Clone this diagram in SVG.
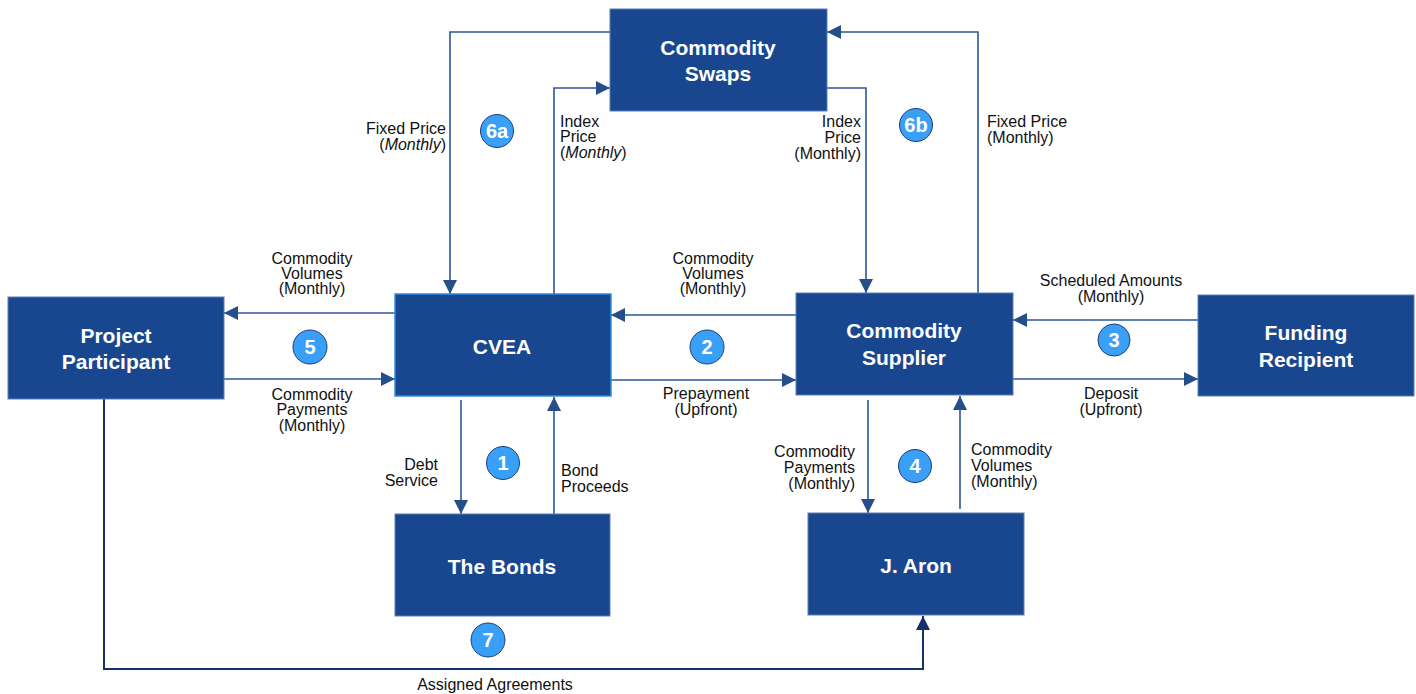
<svg xmlns="http://www.w3.org/2000/svg" width="1416" height="694" viewBox="0 0 1416 694">
<style>
.box{fill:#19478f;stroke:#5a7fb5;stroke-width:1}
.cvea{fill:#19478f;stroke:#2b8fe0;stroke-width:1.5}
.title{font-family:"Liberation Sans",Arial,sans-serif;font-size:21px;font-weight:bold;fill:#fff;text-anchor:middle}
.lbl{font-family:"Liberation Sans",Arial,sans-serif;font-size:16px;fill:#111}
.c{text-anchor:middle}.e{text-anchor:end}.s{text-anchor:start}
.line{fill:none;stroke:#2b5797;stroke-width:1.6}
.nav{fill:none;stroke:#15306e;stroke-width:2}
.badge circle{fill:#3aa0f7;stroke:#1d3f7a;stroke-width:1}
.badge text{font-family:"Liberation Sans",Arial,sans-serif;font-size:20px;font-weight:bold;fill:#fff;text-anchor:middle}
</style>
<defs>
<marker id="ah" viewBox="0 0 14 14" refX="14" refY="7" markerWidth="14" markerHeight="14" orient="auto" markerUnits="userSpaceOnUse"><path d="M0,0 L14,7 L0,14 z" fill="#244f8a"/></marker>
<marker id="ahn" viewBox="0 0 14 14" refX="14" refY="7" markerWidth="14" markerHeight="14" orient="auto" markerUnits="userSpaceOnUse"><path d="M0,0 L14,7 L0,14 z" fill="#15306e"/></marker>
</defs>
<rect width="1416" height="694" fill="#fff"/>

<g id="connectors">
<path class="line" d="M610,32 H450 V294" marker-end="url(#ah)"/>
<path class="line" d="M554,294 V88 H610" marker-end="url(#ah)"/>
<path class="line" d="M827,88 H866 V293" marker-end="url(#ah)"/>
<path class="line" d="M978,293 V32 H827" marker-end="url(#ah)"/>
<path class="line" d="M395,313 H224" marker-end="url(#ah)"/>
<path class="line" d="M224,379 H395" marker-end="url(#ah)"/>
<path class="line" d="M796,315 H611" marker-end="url(#ah)"/>
<path class="line" d="M611,380 H796" marker-end="url(#ah)"/>
<path class="line" d="M1198,320 H1013" marker-end="url(#ah)"/>
<path class="line" d="M1000,379 H1198" marker-end="url(#ah)"/>
<path class="line" d="M461,400 V514" marker-end="url(#ah)"/>
<path class="line" d="M554,514 V397" marker-end="url(#ah)"/>
<path class="line" d="M868,400 V513" marker-end="url(#ah)"/>
<path class="line" d="M960,509 V396" marker-end="url(#ah)"/>
<path class="nav" d="M104,399 V669 H923 V616" marker-end="url(#ahn)"/>

<text class="lbl e" x="446" y="134">Fixed Price</text>
<text class="lbl e" x="446" y="150">(<tspan font-style="italic">Monthly</tspan>)</text>
<text class="lbl s" x="560" y="127">Index</text>
<text class="lbl s" x="560" y="142">Price</text>
<text class="lbl s" x="560" y="158">(<tspan font-style="italic">Monthly</tspan>)</text>
<text class="lbl e" x="861" y="127">Index</text>
<text class="lbl e" x="861" y="143">Price</text>
<text class="lbl e" x="861" y="159">(Monthly)</text>
<text class="lbl s" x="987" y="127">Fixed Price</text>
<text class="lbl s" x="987" y="143">(Monthly)</text>

<text class="lbl c" x="312" y="264">Commodity</text>
<text class="lbl c" x="312" y="279">Volumes</text>
<text class="lbl c" x="312" y="294">(Monthly)</text>
<text class="lbl c" x="312" y="400">Commodity</text>
<text class="lbl c" x="312" y="415">Payments</text>
<text class="lbl c" x="312" y="431">(Monthly)</text>

<text class="lbl c" x="713" y="264">Commodity</text>
<text class="lbl c" x="713" y="279">Volumes</text>
<text class="lbl c" x="713" y="294">(Monthly)</text>
<text class="lbl c" x="706" y="399">Prepayment</text>
<text class="lbl c" x="706" y="415">(Upfront)</text>

<text class="lbl c" x="1111" y="286">Scheduled Amounts</text>
<text class="lbl c" x="1111" y="302">(Monthly)</text>
<text class="lbl c" x="1111" y="399">Deposit</text>
<text class="lbl c" x="1111" y="415">(Upfront)</text>

<text class="lbl e" x="438" y="470">Debt</text>
<text class="lbl e" x="438" y="486">Service</text>
<text class="lbl s" x="561" y="476">Bond</text>
<text class="lbl s" x="561" y="492">Proceeds</text>

<text class="lbl e" x="855" y="457">Commodity</text>
<text class="lbl e" x="855" y="473">Payments</text>
<text class="lbl e" x="855" y="489">(Monthly)</text>
<text class="lbl s" x="971" y="455">Commodity</text>
<text class="lbl s" x="971" y="471">Volumes</text>
<text class="lbl s" x="971" y="487">(Monthly)</text>

<text class="lbl c" x="495" y="690">Assigned Agreements</text>
</g>

<g id="swaps"><rect class="box" x="610" y="9" width="217" height="102"/><text class="title" x="718" y="55">Commodity</text><text class="title" x="718" y="81">Swaps</text></g>
<g id="project-participant"><rect class="box" x="8" y="297" width="216" height="102"/><text class="title" x="116" y="343">Project</text><text class="title" x="116" y="369">Participant</text></g>
<g id="cvea"><rect class="cvea" x="395" y="294" width="216" height="102"/><text class="title" x="502" y="354">CVEA</text></g>
<g id="commodity-supplier"><rect class="box" x="796" y="293" width="217" height="102"/><text class="title" x="904" y="338">Commodity</text><text class="title" x="904" y="365">Supplier</text></g>
<g id="funding-recipient"><rect class="box" x="1198" y="295" width="216" height="101"/><text class="title" x="1306" y="340">Funding</text><text class="title" x="1306" y="367">Recipient</text></g>
<g id="bonds"><rect class="box" x="395" y="514" width="215" height="102"/><text class="title" x="502" y="574">The Bonds</text></g>
<g id="j-aron"><rect class="box" x="808" y="513" width="216" height="102"/><text class="title" x="916" y="573">J. Aron</text></g>

<g id="badge-6a" class="badge"><circle cx="497" cy="131" r="16.5"/><text x="497" y="138">6a</text></g>
<g id="badge-6b" class="badge"><circle cx="916" cy="125" r="16.5"/><text x="916" y="132">6b</text></g>
<g id="badge-5" class="badge"><circle cx="310" cy="347" r="17"/><text x="310" y="354">5</text></g>
<g id="badge-2" class="badge"><circle cx="707" cy="347" r="17"/><text x="707" y="354">2</text></g>
<g id="badge-3" class="badge"><circle cx="1114" cy="340" r="16"/><text x="1114" y="347">3</text></g>
<g id="badge-1" class="badge"><circle cx="503" cy="463" r="16.5"/><text x="503" y="470">1</text></g>
<g id="badge-4" class="badge"><circle cx="915" cy="466" r="16.5"/><text x="915" y="473">4</text></g>
<g id="badge-7" class="badge"><circle cx="488" cy="640" r="17"/><text x="488" y="647">7</text></g>
</svg>
